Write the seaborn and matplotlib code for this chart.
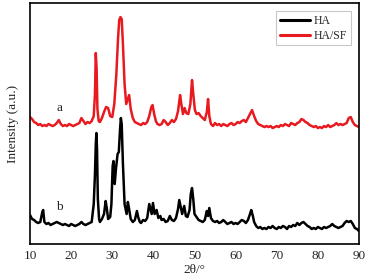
import numpy as np
import pandas as pd
import matplotlib
matplotlib.use("Agg")
import matplotlib.pyplot as plt
import seaborn as sns
from matplotlib.ticker import MultipleLocator

series_names = ["HA", "HA/SF"]

two_theta_hasf = [10, 10.5, 11, 11.5, 12, 12.5, 13, 13.5, 14, 14.5, 15, 15.5, 16, 16.5, 17, 17.5, 18, 18.5, 19, 19.5,
                  20, 20.5, 21, 21.5, 22, 22.5, 23, 23.5, 24, 24.5, 25, 25.5, 25.8, 26.0, 26.2, 26.4, 26.7, 27, 27.5, 28,
                  28.5, 29, 29.5, 30, 30.5, 31, 31.4, 31.7, 32.0, 32.3, 32.6, 33.0, 33.4, 33.8, 34.1, 34.5, 35, 35.5, 36, 36.5,
                  37, 37.5, 38, 38.5, 39, 39.5, 39.8, 40.2, 40.6, 41, 41.5, 42, 42.5, 43, 43.5, 44, 44.5, 45, 45.5, 46,
                  46.5, 46.8, 47.2, 47.6, 48, 48.5, 49, 49.4, 49.7, 50.1, 50.5, 51, 51.5, 52, 52.5, 53, 53.3, 53.6, 54, 54.5,
                  55, 55.5, 56, 56.5, 57, 57.5, 58, 58.5, 59, 59.5, 60, 60.5, 61, 61.5, 62, 62.5, 63, 63.5, 64, 64.5,
                  65, 65.5, 66, 66.5, 67, 67.5, 68, 68.5, 69, 69.5, 70, 70.5, 71, 71.5, 72, 72.5, 73, 73.5, 74, 74.5,
                  75, 75.5, 76, 76.5, 77, 77.5, 78, 78.5, 79, 79.5, 80, 80.5, 81, 81.5, 82, 82.5, 83, 83.5, 84, 84.5,
                  85, 85.5, 86, 86.5, 87, 87.5, 88, 88.5, 89, 89.5, 90]
intensity_hasf = [127, 125, 122, 121, 119, 120, 118, 119, 118, 120, 119, 118, 119, 121, 124, 120, 118, 119, 118, 120,
                  119, 118, 119, 120, 121, 126, 123, 120, 122, 121, 123, 128, 150, 191, 175, 135, 123, 122, 126, 132,
                  137, 136, 128, 127, 140, 170, 205, 224, 227, 225, 200, 160, 140, 145, 149, 135, 126, 122, 121, 120,
                  119, 121, 120, 122, 128, 137, 139, 130, 123, 120, 119, 120, 124, 122, 119, 121, 124, 122, 125, 133,
                  149, 140, 130, 136, 131, 130, 140, 164, 150, 134, 130, 131, 128, 126, 124, 132, 145, 128, 120, 118,
                  121, 119, 120, 118, 120, 119, 118, 120, 121, 119, 120, 122, 121, 123, 124, 122, 126, 130, 134, 128,
                  123, 120, 119, 118, 117, 118, 117, 118, 116, 117, 118, 117, 119, 118, 120, 119, 118, 121, 120, 119,
                  121, 122, 125, 124, 122, 121, 119, 118, 117, 118, 116, 117, 116, 118, 117, 119, 117, 118, 119, 121,
                  119, 120, 119, 120, 121, 126, 127, 122, 119, 118, 117]

two_theta_ha = [10, 10.5, 11, 11.5, 12, 12.5, 13, 13.2, 13.5, 14, 14.5, 15, 15.5, 16, 16.5, 17, 17.5, 18, 18.5, 19,
                19.5, 20, 20.5, 21, 21.5, 22, 22.5, 23, 23.5, 24, 24.5, 25, 25.5, 25.8, 26.0, 26.15, 26.3, 26.5, 26.8, 27,
                27.5, 28, 28.4, 28.7, 29, 29.5, 29.8, 30.1, 30.3, 30.6, 30.9, 31.3, 31.6, 31.9, 32.1, 32.3, 32.6, 33, 33.5, 33.8,
                34.1, 34.5, 35, 35.5, 36, 36.3, 36.7, 37, 37.5, 38, 38.5, 39, 39.3, 39.6, 39.9, 40.3, 40.8, 41.2, 41.7, 42,
                42.5, 43, 43.5, 44, 44.5, 45, 45.5, 46, 46.3, 46.6, 47, 47.5, 47.9, 48.3, 48.8, 49.1, 49.4, 49.7, 50, 50.5,
                51, 51.5, 52, 52.5, 53, 53.3, 53.6, 54, 54.5, 55, 55.5, 56, 56.5, 57, 57.5, 58, 58.5, 59, 59.5, 60,
                60.5, 61, 61.5, 62, 62.5, 63, 63.5, 63.8, 64.2, 64.5, 65, 65.5, 66, 66.5, 67, 67.5, 68, 68.5, 69, 69.5,
                70, 70.5, 71, 71.5, 72, 72.5, 73, 73.5, 74, 74.5, 75, 75.5, 76, 76.5, 77, 77.5, 78, 78.5, 79, 79.5,
                80, 80.5, 81, 81.5, 82, 82.5, 83, 83.5, 84, 84.5, 85, 85.5, 86, 86.5, 87, 87.5, 88, 88.5, 89, 89.5, 90]
intensity_ha = [29, 25, 24, 22, 21, 22, 32, 34, 22, 20, 21, 19, 20, 21, 22, 21, 20, 19, 20, 19,
                18, 20, 19, 18, 19, 20, 22, 20, 19, 20, 21, 22, 40, 70, 100, 111, 95, 45, 25, 22,
                25, 30, 43, 35, 25, 27, 40, 78, 83, 60, 75, 90, 92, 115, 126, 120, 80, 40, 30, 42,
                35, 25, 22, 24, 33, 27, 22, 21, 24, 23, 26, 40, 35, 30, 41, 30, 34, 26, 28, 24,
                25, 22, 23, 28, 24, 23, 26, 35, 44, 38, 30, 38, 28, 27, 34, 50, 56, 45, 30, 27,
                24, 23, 22, 24, 33, 28, 36, 26, 23, 22, 23, 21, 22, 24, 22, 20, 21, 22, 20, 21,
                20, 22, 24, 23, 21, 24, 30, 34, 28, 22, 18, 16, 17, 15, 16, 15, 17, 16, 18, 16,
                15, 17, 16, 18, 17, 15, 18, 17, 19, 18, 21, 19, 21, 22, 20, 18, 17, 15, 16, 15,
                17, 16, 15, 17, 16, 17, 18, 20, 18, 17, 16, 17, 18, 21, 23, 22, 23, 20, 16, 15, 13]

x_ticks = [10, 20, 30, 40, 50, 60, 70, 80, 90]
curve_labels = ["b", "a"]

df = pd.concat([
    pd.DataFrame({"two_theta": two_theta_ha, "intensity": intensity_ha, "sample": series_names[0]}),
    pd.DataFrame({"two_theta": two_theta_hasf, "intensity": intensity_hasf, "sample": series_names[1]}),
], ignore_index=True)

sns.set_style("white")
plt.rcParams["font.family"] = ["Liberation Serif", "DejaVu Serif"]
plt.rcParams["mathtext.fontset"] = "stix"

fig = plt.figure(figsize=(3.68, 2.8), dpi=100)
ax = fig.add_axes([0.0815, 0.1286, 0.894, 0.8604])

sns.lineplot(data=df, x="two_theta", y="intensity", hue="sample",
             palette={"HA": "#000000", "HA/SF": "#e8191f"}, linewidth=1.8,
             ax=ax, sort=False, estimator=None)

ax.set_xlim(10, 90)
ax.set_ylim(0, 241)
ax.set_xticks(x_ticks)
ax.set_xticklabels([str(t) for t in x_ticks], fontsize=9.5)
ax.xaxis.set_minor_locator(MultipleLocator(5))
ax.set_yticks([])
ax.tick_params(axis="x", which="major", direction="in", length=3, width=1, pad=4)
ax.tick_params(axis="x", which="minor", direction="in", length=2, width=1)
ax.set_xlabel("2θ/°", fontsize=9.5, labelpad=2)
ax.set_ylabel("Intensity (a.u.)", fontsize=9.5, labelpad=8)
for s in ax.spines.values():
    s.set_linewidth(1.2)
    s.set_color("black")

ax.text(17.2, 244 - 207, curve_labels[0], fontsize=9.5, ha="center", va="center")
ax.text(17.2, 244 - 108, curve_labels[1], fontsize=9.5, ha="center", va="center")

leg = ax.legend(loc="upper right", fontsize=8.5, handlelength=2.6, frameon=True,
                fancybox=False, borderpad=0.3, labelspacing=0.25, handletextpad=0.3,
                borderaxespad=0.7)
leg.get_frame().set_edgecolor("#bbbbbb")
leg.get_frame().set_linewidth(0.8)
for line in leg.get_lines():
    line.set_linewidth(2.2)

fig.savefig("out.png", dpi=100)
